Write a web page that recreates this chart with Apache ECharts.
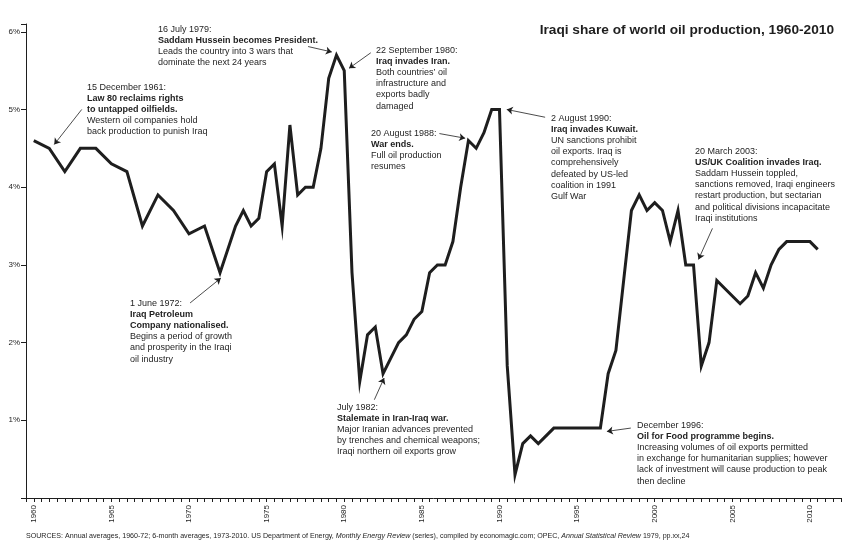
<!DOCTYPE html>
<html><head><meta charset="utf-8">
<script src="https://cdn.jsdelivr.net/npm/echarts@6/dist/echarts.min.js"></script>
<style>html,body{margin:0;padding:0;background:#fff}#c{width:845px;height:548px}</style>
</head><body><div id="c"></div>
<script>
// ---- data ----
const years = [1960,1961,1962,1963,1964,1965,1966,1967,1968,1969,1970,1971,1972,
  1973,1973.5,1974,1974.5,1975,1975.5,1976,1976.5,1977,1977.5,1978,1978.5,1979,1979.5,
  1980,1980.5,1981,1981.5,1982,1982.5,1983,1983.5,1984,1984.5,1985,1985.5,1986,1986.5,
  1987,1987.5,1988,1988.5,1989,1989.5,1990,1990.5,1991,1991.5,1992,1992.5,1993,1993.5,
  1994,1994.5,1995,1995.5,1996,1996.5,1997,1997.5,1998,1998.5,1999,1999.5,2000,2000.5,
  2001,2001.5,2002,2002.5,2003,2003.5,2004,2004.5,2005,2005.5,2006,2006.5,2007,2007.5,
  2008,2008.5,2009,2009.5,2010,2010.5];
const shares = [4.6,4.5,4.2,4.5,4.5,4.3,4.2,3.5,3.9,3.7,3.4,3.5,2.9,
  3.5,3.7,3.5,3.6,4.2,4.3,3.5,4.8,3.9,4.0,4.0,4.5,5.4,5.7,
  5.5,2.9,1.5,2.1,2.2,1.6,1.8,2.0,2.1,2.3,2.4,2.9,3.0,3.0,
  3.3,4.0,4.6,4.5,4.7,5.0,5.0,1.7,0.3,0.7,0.8,0.7,0.8,0.9,
  0.9,0.9,0.9,0.9,0.9,0.9,1.6,1.9,2.8,3.7,3.9,3.7,3.8,3.7,
  3.3,3.7,3.0,3.0,1.7,2.0,2.8,2.7,2.6,2.5,2.6,2.9,2.7,3.0,
  3.2,3.3,3.3,3.3,3.3,3.2];
const yTickValues = [1,2,3,4,5,6];
const xLabelYears = [1960,1965,1970,1975,1980,1985,1990,1995,2000,2005,2010];

const titleText = 'Iraqi share of world oil production, 1960-2010';

// annotation texts: [regular/bold, line]
const notes = [
  {lines:[['r','15 December 1961:'],['b','Law 80 reclaims rights'],['b','to untapped oilfields.'],['r','Western oil companies hold'],['r','back production to punish Iraq']],
   from:[1963.09,5.0], to:[1961.32,4.55]},
  {lines:[['r','16 July 1979:'],['b','Saddam Hussein becomes President.'],['r','Leads the country into 3 wars that'],['r','dominate the next 24 years']],
   from:[1977.67,5.81], to:[1979.2,5.74]},
  {lines:[['r','22 September 1980:'],['b','Iraq invades Iran.'],['r','Both countries\u2019 oil'],['r','infrastructure and'],['r','exports badly'],['r','damaged']],
   from:[1981.71,5.73], to:[1980.31,5.53]},
  {lines:[['r','20 August 1988:'],['b','War ends.'],['r','Full oil production'],['r','resumes']],
   from:[1986.13,4.69], to:[1987.79,4.63]},
  {lines:[['r','2 August 1990:'],['b','Iraq invades Kuwait.'],['r','UN sanctions prohibit'],['r','oil exports. Iraq is'],['r','comprehensively'],['r','defeated by US-led'],['r','coalition in 1991'],['r','Gulf War']],
   from:[1992.94,4.90], to:[1990.47,5.0]},
  {lines:[['r','20 March 2003:'],['b','US/UK Coalition invades Iraq.'],['r','Saddam Hussein toppled,'],['r','sanctions removed, Iraqi engineers'],['r','restart production, but sectarian'],['r','and political divisions incapacitate'],['r','Iraqi institutions']],
   from:[2003.72,3.47], to:[2002.82,3.07]},
  {lines:[['r','1 June 1972:'],['b','Iraq Petroleum'],['b','Company nationalised.'],['r','Begins a period of growth'],['r','and prosperity in the Iraqi'],['r','oil industry']],
   from:[1970.07,2.51], to:[1972.05,2.83]},
  {lines:[['r','July 1982:'],['b','Stalemate in Iran-Iraq war.'],['r','Major Iranian advances prevented'],['r','by trenches and chemical weapons;'],['r','Iraqi northern oil exports grow']],
   from:[1981.94,1.265], to:[1982.57,1.544]},
  {lines:[['r','December 1996:'],['b','Oil for Food programme begins.'],['r','Increasing volumes of oil exports permitted'],['r','in exchange for humanitarian supplies; however'],['r','lack of investment will cause production to peak'],['r','then decline']],
   from:[1998.46,0.90], to:[1996.92,0.857]}
];
// text block layout (pixels, top-left)
const notePos = [[87,81.5],[158,23.5],[376,45],[371,128],[551,113],[695,146],[130,298],[337,402],[637,420]];

// ---- chart ----
const FONT = "'Liberation Sans', Arial, Helvetica, sans-serif";
const INK = '#1e1e1e';
const chart = echarts.init(document.getElementById('c'), null, {renderer:'canvas'});

const richStyles = {
  r:{fontFamily:FONT, fontSize:9, lineHeight:11.1, fill:INK},
  b:{fontFamily:FONT, fontSize:9, lineHeight:11.1, fill:INK, fontWeight:'bold'}
};

const graphics = notes.map((n,i)=>({
  type:'text', x:notePos[i][0], y:notePos[i][1], silent:true,
  style:{text:n.lines.map(l=>'{'+l[0]+'|'+l[1]+'}').join('\n'), rich:richStyles, fill:INK}
}));
graphics.push({type:'text', x:834, y:30, silent:true,
  style:{text:titleText, fontFamily:FONT, fontSize:13.7, fontWeight:'bold', fill:INK, align:'right', verticalAlign:'middle'}});
graphics.push({type:'text', x:26, y:536, silent:true,
  style:{text:'{r|SOURCES: Annual averages, 1960-72; 6-month averages, 1973-2010. US Department of Energy, }{i|Monthly Energy Review}{r| (series), compiled by economagic.com; OPEC, }{i|Annual Statistical Review}{r| 1979, pp.xx,24}',
    verticalAlign:'middle',
    rich:{r:{fontFamily:FONT,fontSize:7.1,fill:INK},i:{fontFamily:FONT,fontSize:7.1,fill:INK,fontStyle:'italic'}}}});

chart.setOption({
  animation:false,
  backgroundColor:'#fff',
  grid:{left:26, right:4, top:24, bottom:50, containLabel:false},
  xAxis:{type:'value', min:1959.5, max:2012, interval:0.5,
    axisLine:{show:true, lineStyle:{color:INK, width:1}},
    axisTick:{show:true, length:4, lineStyle:{color:INK, width:1}},
    splitLine:{show:false},
    axisLabel:{rotate:90, fontSize:8, fontFamily:FONT, color:INK, margin:7,
      formatter:v=> xLabelYears.includes(Math.round(v*10)/10) ? String(Math.round(v)) : ''}},
  yAxis:{type:'value', min:0, max:6.1, interval:1,
    axisLine:{show:true, lineStyle:{color:INK, width:1}},
    axisTick:{show:true, length:5, lineStyle:{color:INK, width:1}},
    splitLine:{show:false},
    axisLabel:{fontSize:8, fontFamily:FONT, color:INK, margin:6,
      formatter:v=> yTickValues.includes(v) ? v+'%' : ''}},
  series:[{
    type:'line', data:years.map((y,i)=>[y,shares[i]]),
    showSymbol:false, symbol:'none',
    lineStyle:{color:INK, width:3, join:'miter'},
    silent:true,
    markLine:{silent:true, symbol:['none','arrow'], symbolSize:6, animation:false,
      label:{show:false}, lineStyle:{color:INK, width:0.8, type:'solid'},
      emphasis:{disabled:true},
      data:notes.map(n=>[{coord:n.from},{coord:n.to}])}
  }],
  graphic:graphics
});
</script></body></html>
